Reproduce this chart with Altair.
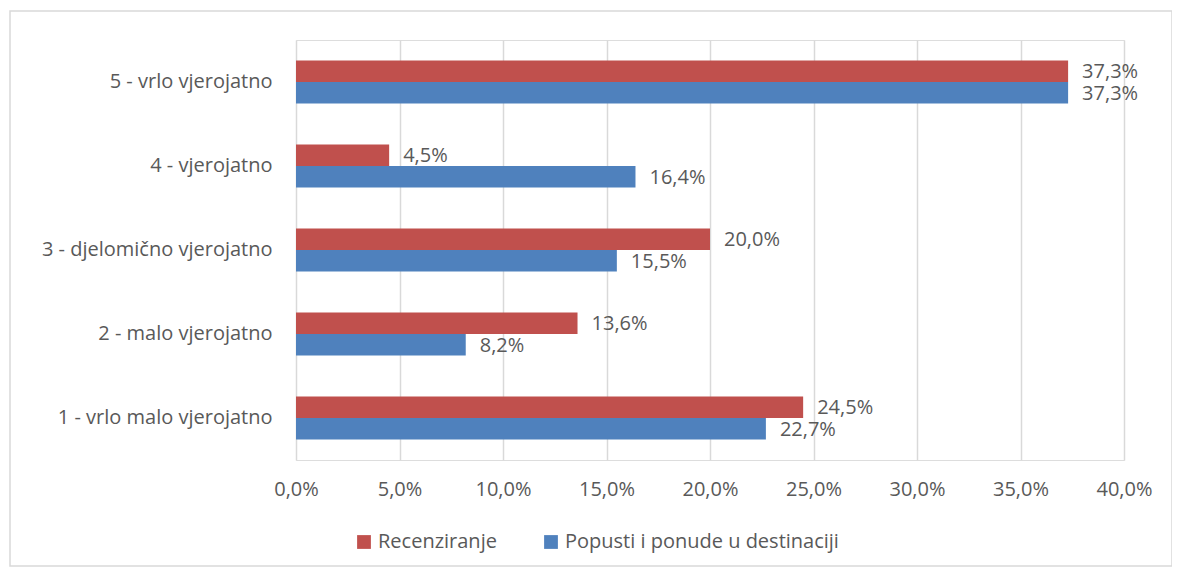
import altair as alt
import pandas as pd

categories = ["5 - vrlo vjerojatno", "4 - vjerojatno", "3 - djelomično vjerojatno",
              "2 - malo vjerojatno", "1 - vrlo malo vjerojatno"]
series = ["Recenziranje", "Popusti i ponude u destinaciji"]
recenziranje = [37.3, 4.5, 20.0, 13.6, 24.5]
popusti = [37.3, 16.4, 15.5, 8.2, 22.7]
colors = ["#C0504D", "#4F81BD"]
x_ticks = [0, 5, 10, 15, 20, 25, 30, 35, 40]

rows = []
for c, r, p in zip(categories, recenziranje, popusti):
    rows.append({"cat": c, "series": series[0], "value": r, "label": f"{r:.1f}".replace(".", ",") + "%"})
    rows.append({"cat": c, "series": series[1], "value": p, "label": f"{p:.1f}".replace(".", ",") + "%"})
df = pd.DataFrame(rows)

FONT = "Open Sans"
TXT = "#595959"
FS = 20

base = alt.Chart(df)

y = alt.Y("cat:N", sort=categories, title=None,
          scale=alt.Scale(paddingInner=0.49, paddingOuter=0.245),
          axis=alt.Axis(labelFontSize=FS, labelColor=TXT, labelFont=FONT, ticks=False,
                        domain=False, labelPadding=24, grid=False, labelLimit=0))
x = alt.X("value:Q", title=None,
          scale=alt.Scale(domain=[0, 40], nice=False),
          axis=alt.Axis(values=x_ticks, labelExpr="replace(format(datum.value, '.1f'), '.', ',') + '%'",
                        labelFontSize=FS, labelColor=TXT, labelFont=FONT, ticks=False, domain=False,
                        labelFlush=False, labelOverlap=False,
                        labelPadding=19, grid=True, gridColor="#d9d9d9", gridWidth=1.5))
yoff = alt.YOffset("series:N", sort=series, scale=alt.Scale(domain=series))

bars = base.mark_bar().encode(
    x=x, y=y, yOffset=yoff,
    color=alt.Color("series:N", sort=series,
                    scale=alt.Scale(domain=series, range=colors),
                    legend=alt.Legend(title=None, orient="none", direction="horizontal",
                                      legendX=58, legendY=492, symbolType="square",
                                      symbolSize=190, symbolStrokeWidth=0, labelFontSize=FS,
                                      labelColor=TXT, labelFont=FONT, columnPadding=44,
                                      symbolOffset=0, labelOffset=4, labelLimit=0)),
)

labels = base.mark_text(align="left", baseline="middle", dx=14, dy=1, fontSize=FS,
                        font=FONT, color=TXT).encode(
    x="value:Q", y=alt.Y("cat:N", sort=categories), yOffset=yoff, text="label:N")

border = alt.Chart(pd.DataFrame({"a": [0]})).mark_rect(fill=None, stroke="#d9d9d9", strokeWidth=1.5).encode(
    x=alt.value(-286), x2=alt.value(876), y=alt.value(-29), y2=alt.value(526))

chart = alt.layer(border, bars, labels).properties(
    width=828, height=420,
    autosize=alt.AutoSizeParams(type="none"),
    padding={"left": 288, "top": 32, "right": 48, "bottom": 110},
).configure_view(stroke=None).configure(font=FONT)

chart.save("out.html", embed_options={"renderer": "svg", "actions": False})
